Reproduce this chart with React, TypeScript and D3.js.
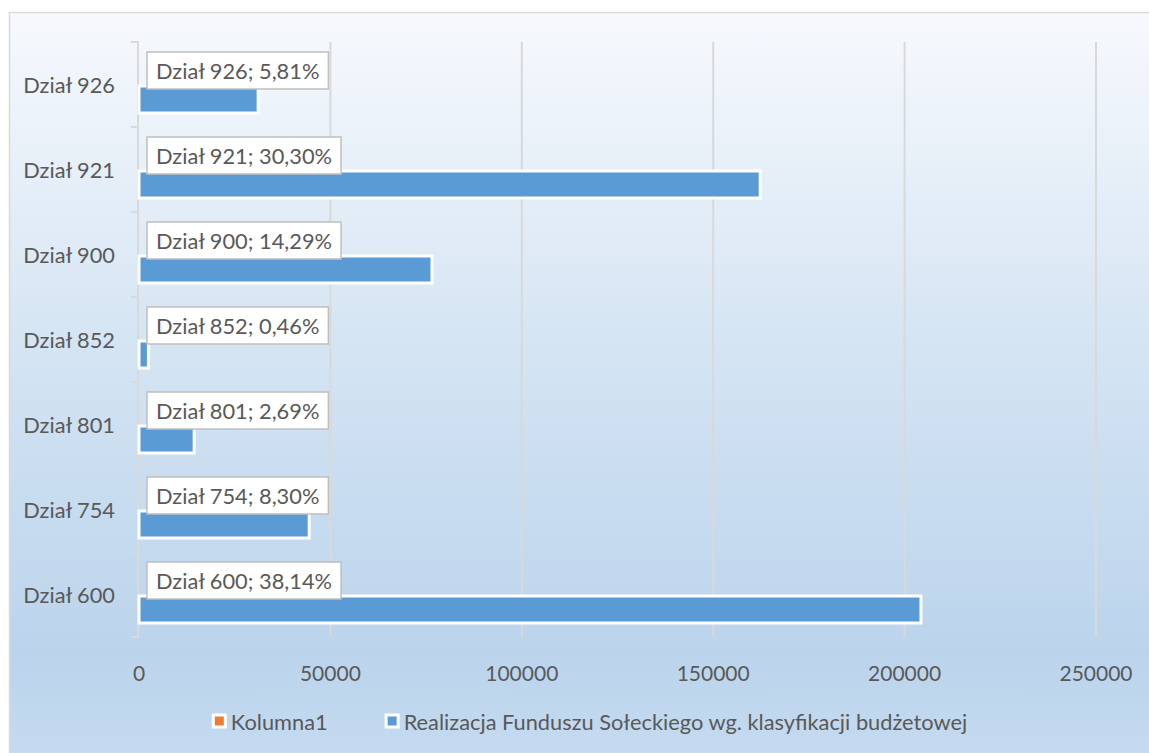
import React, { useEffect, useRef } from "react";
import * as d3 from "d3";

const categories = ["Dział 926", "Dział 921", "Dział 900", "Dział 852", "Dział 801", "Dział 754", "Dział 600"];
const realizacja = [31120, 162280, 76540, 2460, 14410, 44460, 204280];
const kolumna1 = [0, 0, 0, 0, 0, 0, 0];
const percentLabels = ["5,81%", "30,30%", "14,29%", "0,46%", "2,69%", "8,30%", "38,14%"];
const xTicks = [0, 50000, 100000, 150000, 200000, 250000];
const seriesNames = ["Kolumna1", "Realizacja Funduszu Sołeckiego wg. klasyfikacji budżetowej"];
const seriesColors = ["#ed7d31", "#5b9bd5"];

const W = 1149;
const H = 753;
const FONT = "Lato, 'Open Sans', sans-serif";
const FS = 21.8;
const FS_TICK = 21;
const TEXT = "#595959";

export default function App() {
  const ref = useRef<SVGSVGElement>(null);

  useEffect(() => {
    const svg = d3.select(ref.current);
    svg.selectAll("*").remove();

    const defs = svg.append("defs");
    const grad = defs.append("linearGradient").attr("id", "bg").attr("x1", 0).attr("y1", 0).attr("x2", 0).attr("y2", 1);
    [
      [0, "#f7f9fd"],
      [0.45, "#d4e4f3"],
      [0.85, "#bbd4ec"],
      [1, "#c5dbf0"],
    ].forEach(([o, c]) => grad.append("stop").attr("offset", o as number).attr("stop-color", c as string));

    svg.append("rect").attr("x", 9.5).attr("y", 12.5).attr("width", W).attr("height", H)
      .attr("fill", "url(#bg)").attr("stroke", "#d9d9d9").attr("stroke-width", 1.5);

    const x = d3.scaleLinear().domain([0, 250000]).range([139, 1096]);
    const y = d3.scaleBand<string>().domain(categories).range([42, 637]).paddingInner(0).paddingOuter(0);
    const slot = 30;

    // gridlines
    svg.append("g").selectAll("line").data(xTicks.slice(1)).join("line")
      .attr("x1", (d) => x(d)).attr("x2", (d) => x(d))
      .attr("y1", 42).attr("y2", 637)
      .attr("stroke", "#d9d9d9").attr("stroke-width", 2);

    // category axis
    svg.append("line").attr("x1", 138).attr("x2", 138).attr("y1", 42).attr("y2", 637)
      .attr("stroke", "#d9d9d9").attr("stroke-width", 2);
    const bounds = categories.map((c) => y(c)!).concat([y.range()[1]]);
    svg.append("g").selectAll("line").data(bounds).join("line")
      .attr("x1", 131).attr("x2", 139).attr("y1", (d) => d).attr("y2", (d) => d)
      .attr("stroke", "#d9d9d9").attr("stroke-width", 2);

    // category labels
    svg.append("g").selectAll("text").data(categories).join("text")
      .attr("x", 115).attr("y", (d) => y(d)! + y.bandwidth() / 2)
      .attr("text-anchor", "end").attr("dominant-baseline", "central")
      .attr("font-family", FONT).attr("font-size", FS).attr("fill", TEXT)
      .text((d) => d);

    // x tick labels
    svg.append("g").selectAll("text").data(xTicks).join("text")
      .attr("x", (d) => x(d)).attr("y", 672)
      .attr("text-anchor", "middle").attr("dominant-baseline", "central")
      .attr("font-family", FONT).attr("font-size", FS_TICK).attr("fill", TEXT)
      .text((d) => String(d));

    // bars: Realizacja (lower slot)
    svg.append("g").selectAll("rect").data(categories).join("rect")
      .attr("x", x(0)).attr("y", (d) => y(d)! + y.bandwidth() / 2 + 1.5)
      .attr("width", (_, i) => x(realizacja[i]) - x(0)).attr("height", slot - 3)
      .attr("fill", seriesColors[1]).attr("stroke", "#ffffff").attr("stroke-width", 3);

    // bars: Kolumna1 (upper slot)
    svg.append("g").selectAll("rect").data(categories).join("rect")
      .attr("x", x(0)).attr("y", (d) => y(d)! + y.bandwidth() / 2 - slot + 1.5)
      .attr("width", (_, i) => x(kolumna1[i]) - x(0)).attr("height", slot - 3)
      .attr("fill", seriesColors[0]).attr("stroke", "#ffffff").attr("stroke-width", 3);

    // data labels
    const lg = svg.append("g");
    categories.forEach((c, i) => {
      const cy = y(c)! + y.bandwidth() / 2 - slot / 2 + 1;
      const g = lg.append("g");
      const box = g.append("rect");
      const t = g.append("text")
        .attr("x", x(kolumna1[i]) + 17).attr("y", cy)
        .attr("dominant-baseline", "central")
        .attr("font-family", FONT).attr("font-size", FS).attr("fill", TEXT)
        .text(`${c}; ${percentLabels[i]}`);
      const w = (t.node() as SVGTextElement).getComputedTextLength();
      box.attr("x", x(kolumna1[i]) + 8).attr("y", cy - 18.5).attr("width", w + 18).attr("height", 37)
        .attr("fill", "#ffffff").attr("stroke", "#bfbfbf").attr("stroke-width", 1.5);
    });

    // legend
    const leg = svg.append("g");
    const items: { g: any; w: number }[] = [];
    seriesNames.forEach((name, i) => {
      const g = leg.append("g");
      g.append("rect").attr("x", 1.5).attr("y", -6).attr("width", 12).attr("height", 12)
        .attr("fill", seriesColors[i]).attr("stroke", "#ffffff").attr("stroke-width", 3);
      const t = g.append("text").attr("x", 19).attr("y", 0).attr("dominant-baseline", "central")
        .attr("font-family", FONT).attr("font-size", FS).attr("fill", TEXT).text(name);
      const w = 19 + (t.node() as SVGTextElement).getComputedTextLength();
      items.push({ g, w });
    });
    const gap = 57;
    const total = items.reduce((s, it) => s + it.w, 0) + gap * (items.length - 1);
    let cx = 589.5 - total / 2;
    items.forEach((it) => {
      it.g.attr("transform", `translate(${cx},721)`);
      cx += it.w + gap;
    });
  }, []);

  return (
    <div style={{ position: "fixed", left: 0, top: 0 }}>
      <svg ref={ref} width={W} height={H} style={{ display: "block", background: "#ffffff" }} />
    </div>
  );
}
